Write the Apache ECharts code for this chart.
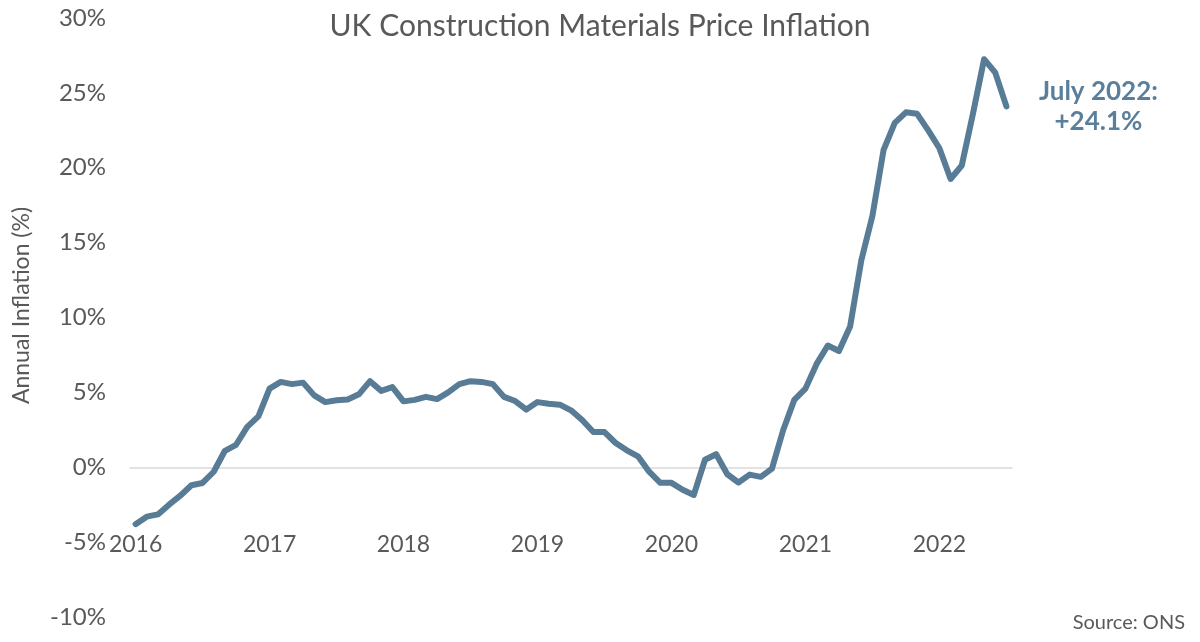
<!DOCTYPE html>
<html>
<head>
<meta charset="utf-8">
<script src="https://cdn.jsdelivr.net/npm/echarts@6/dist/echarts.min.js"></script>
<style>
  html, body { margin: 0; padding: 0; background: #fff; }
  #chart { width: 1200px; height: 642px; }
</style>
</head>
<body>
<div id="chart"></div>
<script>
// ---- data ----
// monthly, Jan 2016 .. Jul 2022
const years = [2016, 2017, 2018, 2019, 2020, 2021, 2022];
const months = [];
years.forEach(y => {
  for (let m = 1; m <= 12; m++) {
    if (y === 2022 && m > 7) break;
    months.push(y + '-' + String(m).padStart(2, '0'));
  }
});

const inflation = [
  // 2016
  -3.8, -3.3, -3.15, -2.5, -1.9, -1.2, -1.05, -0.3, 1.1, 1.5, 2.7, 3.4,
  // 2017
  5.25, 5.7, 5.55, 5.65, 4.8, 4.35, 4.47, 4.53, 4.87, 5.75, 5.1, 5.35,
  // 2018
  4.4, 4.5, 4.7, 4.55, 5.0, 5.55, 5.75, 5.7, 5.55, 4.7, 4.42, 3.85,
  // 2019
  4.35, 4.24, 4.18, 3.8, 3.15, 2.35, 2.35, 1.62, 1.13, 0.73, -0.3, -1.04,
  // 2020
  -1.04, -1.5, -1.85, 0.5, 0.87, -0.47, -1.02, -0.49, -0.64, -0.09, 2.47, 4.5,
  // 2021
  5.25, 6.9, 8.13, 7.76, 9.4, 13.8, 16.8, 21.2, 23.0, 23.7, 23.6, 22.5,
  // 2022
  21.3, 19.25, 20.15, 23.6, 27.25, 26.35, 24.1
];

const titleText = 'UK Construction Materials Price Inflation';
const yName = 'Annual Inflation (%)';
const sourceText = 'Source: ONS';
const noteText = 'July 2022:\n+24.1%';

const grey = '#595959';
const blue = '#587c96';
const fontFam = 'Lato, "Open Sans", sans-serif';

// ---- chart ----
const chart = echarts.init(document.getElementById('chart'));

chart.setOption({
  animation: false,
  title: [
    {
      text: titleText,
      left: 'center',
      top: 6,
      textStyle: { color: grey, fontFamily: fontFam, fontWeight: 'normal', fontSize: 30 }
    },
    {
      text: sourceText,
      right: 10,
      bottom: 4,
      textStyle: { color: grey, fontFamily: fontFam, fontWeight: 'normal', fontSize: 20 }
    }
  ],
  grid: { left: 130, right: 188, top: 18, bottom: 25, containLabel: false, outerBoundsMode: 'none' },
  xAxis: {
    type: 'category',
    data: months,
    boundaryGap: true,
    axisLine: { onZero: true, lineStyle: { color: '#d9d9d9', width: 1.5 } },
    axisTick: { show: false },
    axisLabel: {
      interval: 0,
      margin: -84,
      color: grey,
      fontFamily: fontFam,
      fontSize: 23,
      formatter: (val) => val.endsWith('-01') ? val.slice(0, 4) : ''
    },
    splitLine: { show: false }
  },
  yAxis: {
    type: 'value',
    min: -10,
    max: 30,
    interval: 5,
    name: yName,
    nameLocation: 'middle',
    nameGap: 97,
    nameTextStyle: { color: grey, fontFamily: fontFam, fontSize: 23, padding: [0, 0, 0, 24] },
    axisLine: { show: false },
    axisTick: { show: false },
    splitLine: { show: false },
    axisLabel: {
      margin: 24,
      color: grey,
      fontFamily: fontFam,
      fontSize: 24,
      formatter: '{value}%'
    }
  },
  series: [
    {
      type: 'line',
      data: inflation,
      symbol: 'none',
      smooth: false,
      lineStyle: { color: blue, width: 6, cap: 'round', join: 'round' },
      itemStyle: { color: blue },
      endLabel: {
        show: true,
        distance: 92,
        align: 'center',
        verticalAlign: 'middle',
        formatter: noteText,
        color: '#5b7f9a',
        fontFamily: fontFam,
        fontWeight: 'bold',
        fontSize: 26,
        lineHeight: 30
      }
    }
  ]
});

window.onresize = function () {
  chart.resize();
};
</script>
</body>
</html>
